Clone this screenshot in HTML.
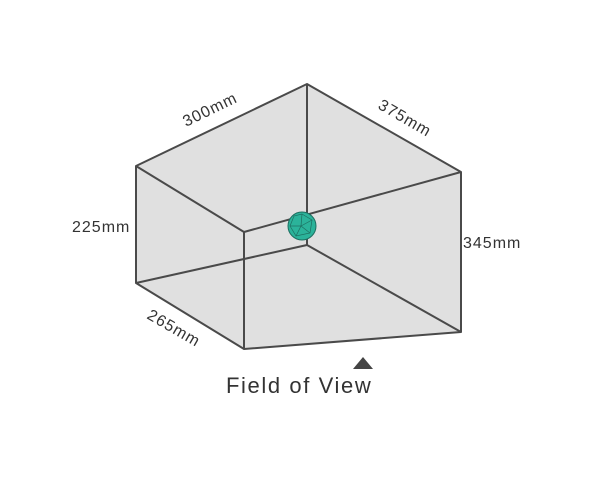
<!DOCTYPE html>
<html><head><style>body{margin:0;background:#fff}</style></head><body>
<svg width="600" height="475" xmlns="http://www.w3.org/2000/svg" font-family="Liberation Sans, sans-serif">
<polygon points="136,166 307,84 461,172 461,332 244,349 136,283" fill="#e0e0e0"/>
<g stroke="#4a4a4a" stroke-width="2" fill="none" stroke-linejoin="round">
<polygon points="136,166 307,84 461,172 461,332 244,349 136,283"/>
<line x1="136" y1="166" x2="244" y2="232"/>
<line x1="244" y1="232" x2="461" y2="172"/>
<line x1="244" y1="232" x2="244" y2="349"/>
<line x1="307" y1="84" x2="307" y2="245"/>
<line x1="136" y1="283" x2="307" y2="245"/>
<line x1="307" y1="245" x2="461" y2="332"/>
</g>
<g>
<circle cx="302" cy="226" r="14" fill="#2bb39a" stroke="#1d6e60" stroke-width="1"/>
<g stroke="#1d6e60" stroke-width="0.7" fill="none">
<polygon points="302,214 312,220 310,233 296,236 290,226 294,216"/>
<line x1="302" y1="214" x2="301" y2="226"/><line x1="312" y1="220" x2="301" y2="226"/>
<line x1="310" y1="233" x2="301" y2="226"/><line x1="296" y1="236" x2="301" y2="226"/>
<line x1="290" y1="226" x2="301" y2="226"/>
</g>
</g>
<g fill="#333" font-size="16" letter-spacing="1">
<text x="0" y="0" transform="translate(186,127) rotate(-26)">300mm</text>
<text x="0" y="0" transform="translate(377,108) rotate(30)">375mm</text>
<text x="72" y="232">225mm</text>
<text x="463" y="248">345mm</text>
<text x="0" y="0" transform="translate(146,318) rotate(30)">265mm</text>
<text x="226" y="393" font-size="22" letter-spacing="1.6">Field of View</text>
</g>
<polygon points="353,369 363,357 373,369" fill="#444"/>
</svg>
</body></html>
